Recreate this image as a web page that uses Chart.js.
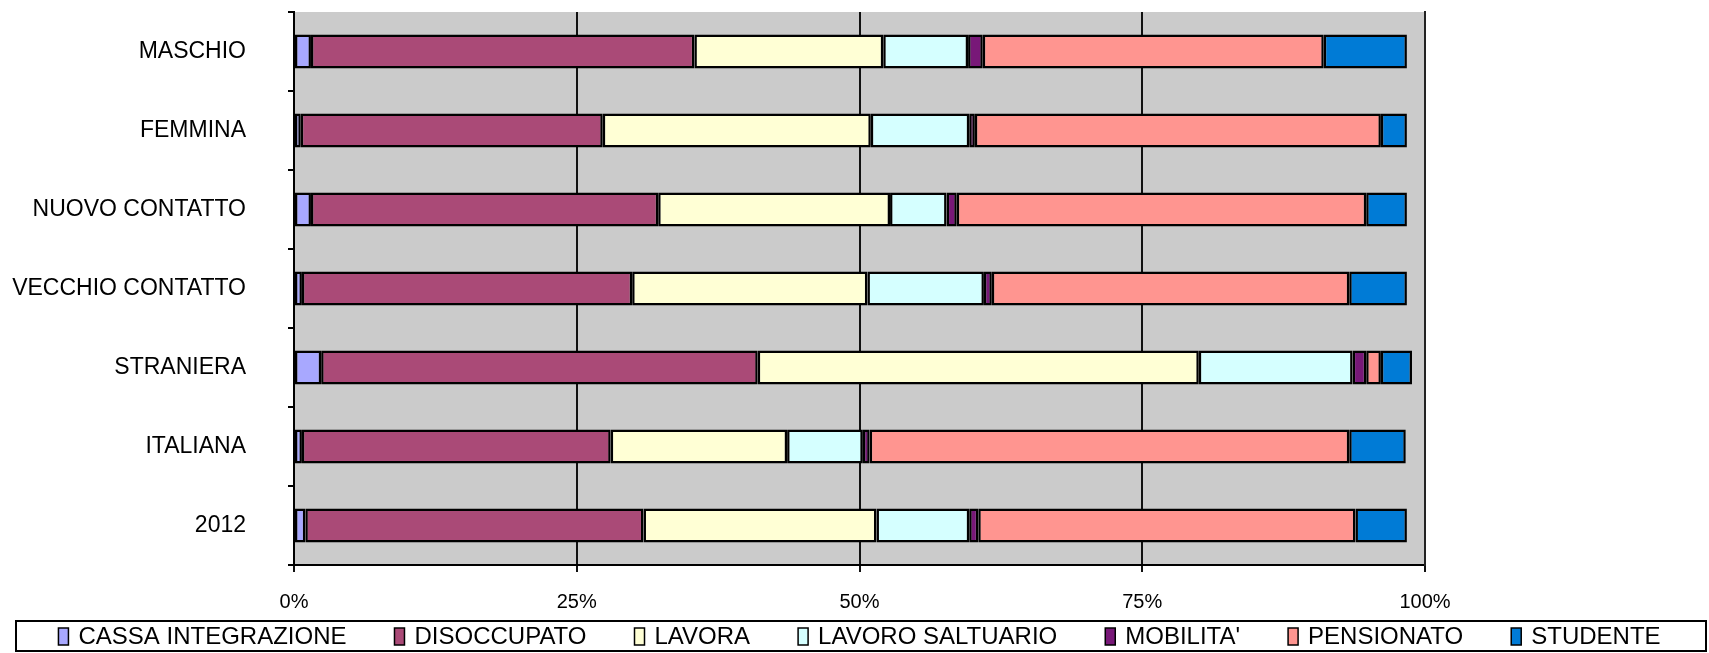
<!DOCTYPE html>
<html>
<head>
<meta charset="utf-8">
<script src="https://cdn.jsdelivr.net/npm/chart.js@4.4.1/dist/chart.umd.min.js"></script>
<style>
  body { margin: 0; background: #fff; }
  #wrap { width: 1709px; height: 653px; position: relative; }
</style>
</head>
<body>
<div id="wrap"><canvas id="myChart"></canvas></div>
<script>
// categorie (dall'alto in basso)
let categorie = ["MASCHIO", "FEMMINA", "NUOVO CONTATTO", "VECCHIO CONTATTO", "STRANIERA", "ITALIANA", "2012"];

// valori in percentuale per ogni condizione
let cassaIntegrazione = [1.5, 0.6, 1.5, 0.7, 2.4, 0.7, 1.0];
let disoccupato = [33.9, 26.7, 30.7, 29.2, 38.6, 27.3, 29.9];
let lavora = [16.7, 23.7, 20.5, 20.8, 39.0, 15.6, 20.6];
let lavoroSaltuario = [7.5, 8.7, 5.0, 10.3, 13.6, 6.7, 8.2];
let mobilita = [1.3, 0.5, 0.9, 0.7, 1.2, 0.6, 0.8];
let pensionato = [30.15, 35.9, 36.2, 31.6, 1.3, 42.4, 33.35];
let studente = [7.35, 2.3, 3.6, 5.1, 2.75, 5.0, 4.55];

let xTicks = [0, 25, 50, 75, 100];

let font = "'Liberation Sans', Arial, sans-serif";

function serie(label, data, colore) {
  return {
    label: label,
    data: data,
    backgroundColor: colore,
    borderColor: "#000",
    borderWidth: 2.5,
    borderSkipped: false,
    barPercentage: 0.43,
    categoryPercentage: 1,
  };
}

// sfondo grigio dell'area del grafico
const sfondo = {
  id: "sfondo",
  beforeDraw(chart) {
    let a = chart.chartArea;
    let ctx = chart.ctx;
    ctx.save();
    ctx.fillStyle = "#cbcbcb";
    ctx.fillRect(a.left, a.top, a.right - a.left, a.bottom - a.top);
    ctx.restore();
  },
};

// legenda in un riquadro in basso
const legenda = {
  id: "legenda",
  afterDraw(chart) {
    let ctx = chart.ctx;
    let W = chart.width;
    let H = chart.height;
    let top = H - 32;
    let h = 30;
    ctx.save();
    ctx.strokeStyle = "#000";
    ctx.lineWidth = 2;
    ctx.strokeRect(16, top, W - 19, h);

    ctx.font = "24px " + font;
    ctx.textBaseline = "middle";
    let box = 10, gap = 10, pad = 48;
    let ds = chart.data.datasets;
    let tot = 0;
    ds.forEach((d, i) => {
      tot += box + gap + ctx.measureText(d.label).width;
      if (i < ds.length - 1) tot += pad;
    });
    let x = (W - tot) / 2 + 5;
    let cy = top + h / 2;
    ds.forEach((d) => {
      ctx.fillStyle = d.backgroundColor;
      ctx.fillRect(x, cy - 8, box, 17);
      ctx.lineWidth = 1.5;
      ctx.strokeRect(x, cy - 8, box, 17);
      ctx.fillStyle = "#000";
      ctx.fillText(d.label, x + box + gap, cy + 1);
      x += box + gap + ctx.measureText(d.label).width + pad;
    });
    ctx.restore();
  },
};

let ctx = document.getElementById("myChart").getContext("2d");

let myChart = new Chart(ctx, {
  type: "bar",
  data: {
    labels: categorie,
    datasets: [
      serie("CASSA INTEGRAZIONE", cassaIntegrazione, "#a8a8ff"),
      serie("DISOCCUPATO", disoccupato, "#aa4a77"),
      serie("LAVORA", lavora, "#ffffd5"),
      serie("LAVORO SALTUARIO", lavoroSaltuario, "#d5ffff"),
      serie("MOBILITA'", mobilita, "#781878"),
      serie("PENSIONATO", pensionato, "#ff9590"),
      serie("STUDENTE", studente, "#007bd6"),
    ],
  },
  options: {
    indexAxis: "y",
    responsive: true,
    maintainAspectRatio: false,
    animation: false,
    layout: { padding: { top: 12, bottom: 36, left: 0, right: 0 } },
    plugins: {
      legend: { display: false },
      tooltip: { enabled: false },
    },
    scales: {
      x: {
        stacked: true,
        min: 0,
        max: 100,
        afterBuildTicks: (s) => {
          s.ticks = xTicks.map((v) => ({ value: v }));
        },
        afterFit: (s) => {
          s.height = 52;
        },
        grid: { color: "#111", lineWidth: 2, drawTicks: true, tickLength: 7 },
        border: { display: true, color: "#000", width: 2 },
        ticks: {
          color: "#000",
          padding: 18,
          font: { family: font, size: 20 },
          callback: (v) => v + "%",
        },
      },
      y: {
        stacked: true,
        afterFit: (s) => {
          s.width = 294;
          // niente spazio extra sopra e sotto per le etichette
          s.paddingTop = 0;
          s.paddingBottom = 0;
        },
        grid: { drawOnChartArea: false, drawTicks: true, tickLength: 6, color: "#000", lineWidth: 2 },
        border: { display: true, color: "#000", width: 2 },
        ticks: {
          color: "#000",
          padding: 42,
          font: { family: font, size: 23 },
        },
      },
      // asse vuoto a destra: lascia il margine e disegna il bordo destro
      y2: {
        type: "linear",
        position: "right",
        afterFit: (s) => {
          s.width = 284;
          s.paddingTop = 0;
          s.paddingBottom = 0;
        },
        grid: { display: false },
        border: { display: true, color: "#222", width: 2 },
        ticks: { display: false },
      },
    },
  },
  plugins: [sfondo, legenda],
});
</script>
</body>
</html>
